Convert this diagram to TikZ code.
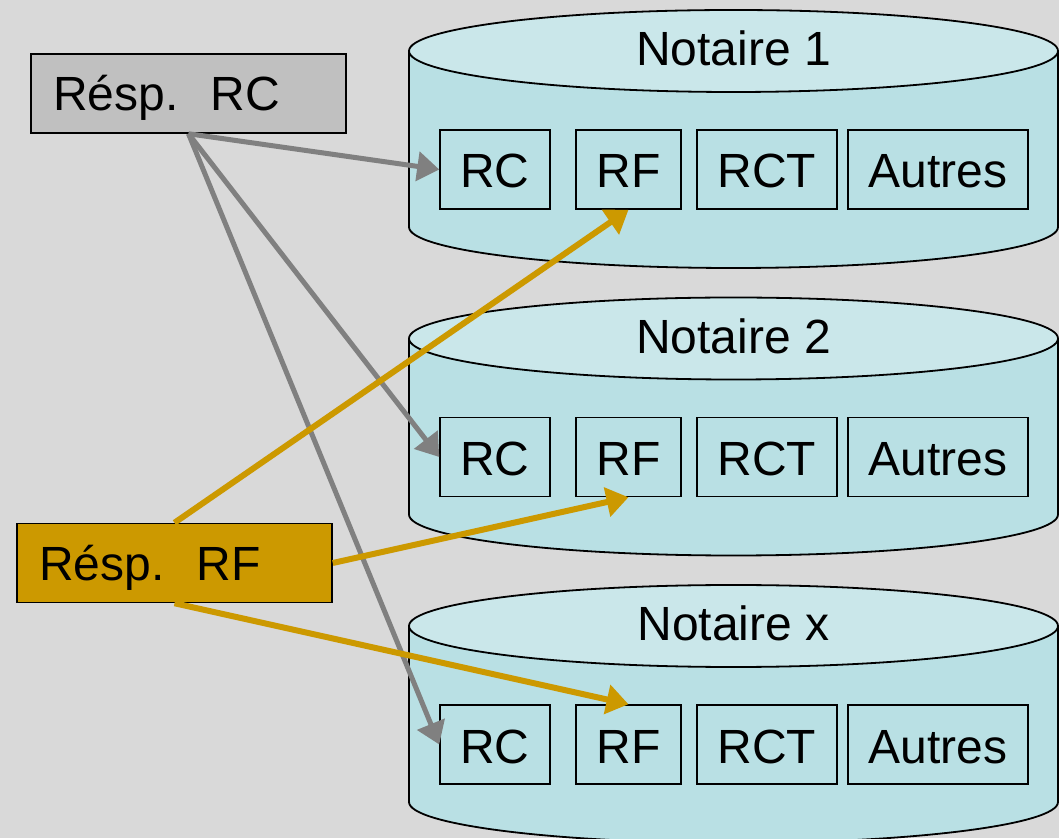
\documentclass[tikz,border=0pt]{standalone}
\usepackage{fontspec}
\setmainfont{Liberation Sans}
\usetikzlibrary{arrows.meta}
\definecolor{bgc}{HTML}{D9D9D9}
\definecolor{sidec}{HTML}{B9E0E4}
\definecolor{topc}{HTML}{CAE7EA}
\definecolor{rcgray}{HTML}{C0C0C0}
\definecolor{gold}{HTML}{CC9900}
\definecolor{arrgray}{HTML}{808080}
\begin{document}
\begin{tikzpicture}[x=1pt,y=1pt,
  bigfont/.style={font=\fontsize{48}{54}\selectfont},
  cell/.style={draw=black, line width=1.5pt, fill=sidec, minimum height=79pt, inner sep=0pt, text height=37pt, text depth=0pt, bigfont},
  resp/.style={draw=black, line width=1.5pt, minimum height=79pt, inner ysep=0pt, text height=35pt, text depth=0pt, text width=271pt, align=left, bigfont},
  cyl/.style={draw=black, line width=1.8pt},
  garrow/.style={draw=arrgray, line width=5pt, -{Triangle[length=22pt,width=29pt]}},
  oarrow/.style={draw=gold, line width=6pt, -{Triangle[length=22pt,width=29pt]}}
]
\useasboundingbox (0,0) rectangle (1059,838);
\fill[bgc] (0,0) rectangle (1059,838);

\foreach \n/\lab in {0/1,1/2,2/x}{
  \pgfmathsetmacro\yt{787-287.5*\n}
  \pgfmathsetmacro\yb{611-287.5*\n}
  \pgfmathsetmacro\yc{668.5-287.5*\n}
  \pgfmathsetmacro\ylab{772-287.5*\n}
  \fill[sidec] (409,\yt) -- (409,\yb) arc[start angle=180,end angle=360,x radius=324.5pt,y radius=41pt] -- (1058,\yt) -- cycle;
  \draw[cyl] (409,\yt) -- (409,\yb) arc[start angle=180,end angle=360,x radius=324.5pt,y radius=41pt] -- (1058,\yt);
  \draw[cyl, fill=topc] (733.5,\yt) ellipse [x radius=324.5pt, y radius=41pt];
  \node[bigfont, anchor=base, inner sep=0pt] (lab\n) at (733.5,\ylab) {Notaire \lab};
  \node[cell, minimum width=110pt] (c\n rc) at (495,\yc) {RC};
  \node[cell, minimum width=105pt] (c\n rf) at (628.5,\yc) {RF};
  \node[cell, minimum width=140pt] (c\n rct) at (767,\yc) {RCT};
  \node[cell, minimum width=180pt] (c\n aut) at (938,\yc) {Autres};
}

\node[resp, fill=rcgray, inner xsep=22pt] (rc) at (188.5,744.5) {Résp.\ \ RC};
\node[resp, fill=gold, inner xsep=22pt] (rf) at (174.5,275) {Résp.\ \ RF};

\draw[garrow] (rc.south) -- (c0rc.west);
\draw[garrow] (rc.south) -- (c1rc.west);
\draw[garrow] (rc.south) -- (c2rc.west);

\draw[oarrow] (rf.north) -- (c0rf.south);
\draw[oarrow] (rf.east) -- (c1rf.south);
\draw[oarrow] (rf.south) -- (c2rf.north);
\end{tikzpicture}
\end{document}
